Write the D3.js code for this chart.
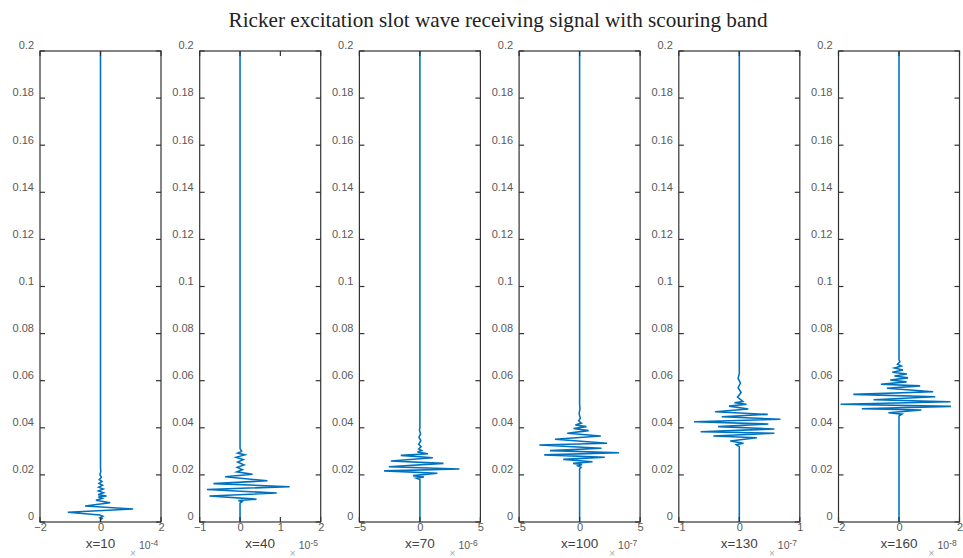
<!DOCTYPE html>
<html>
<head>
<meta charset="utf-8">
<script src="https://cdn.jsdelivr.net/npm/d3@7"></script>
<style>
  html, body { margin: 0; padding: 0; background: #fff; }
  svg { display: block; }
</style>
</head>
<body>
<svg id="chart" width="963" height="558"></svg>
<script>
// ---- data ----
const chartTitle = "Ricker excitation slot wave receiving signal with scouring band";
const receiverNames = ["x=10", "x=40", "x=70", "x=100", "x=130", "x=160"];
const ampExponents = [-4, -5, -6, -7, -7, -8];
const ampDomains = [[-2, 2], [-1, 2], [-5, 5], [-5, 5], [-1, 1], [-2, 2]];
const ampTicks = [[-2, 0, 2], [-1, 0, 1, 2], [-5, 0, 5], [-5, 0, 5], [-1, 0, 1], [-2, 0, 2]];
const timeDomain = [0, 0.2];
const timeTicks = [0, 0.02, 0.04, 0.06, 0.08, 0.1, 0.12, 0.14, 0.16, 0.18, 0.2];
const timeTickLabels = ["0", "0.02", "0.04", "0.06", "0.08", "0.1", "0.12", "0.14", "0.16", "0.18", "0.2"];

// Received signal at each receiver: [time (s), amplitude (× 10^exponent)]
const signalX10 = [
  [0, 0], [0.0010, 0], [0.0014, 0.05], [0.0018, -0.02], [0.0024, 0.08], [0.0030, -0.02],
  [0.0041, -1.08], [0.0055, 1.08], [0.0068, -0.51], [0.0082, 0.32], [0.0092, -0.15],
  [0.0100, 0.06], [0.0106, -0.07], [0.0110, 0.20], [0.0116, -0.08], [0.0124, 0.10],
  [0.0132, -0.07], [0.0140, 0.09], [0.0148, -0.06], [0.0156, 0.07], [0.0164, -0.05],
  [0.0172, 0.05], [0.0180, -0.04], [0.0190, 0.03], [0.0200, -0.02], [0.0215, 0.01],
  [0.0230, 0], [0.2, 0]
];
const signalX40 = [
  [0, 0], [0.0080, 0], [0.0086, 0.05], [0.0091, -0.04], [0.0097, 0.41], [0.0110, -0.76],
  [0.0123, 0.91], [0.0138, -0.82], [0.0150, 1.23], [0.0163, -0.66], [0.0175, 0.68],
  [0.0192, -0.37], [0.0203, 0.31], [0.0213, -0.08], [0.0222, 0.06], [0.0232, -0.07],
  [0.0242, 0.10], [0.0255, -0.06], [0.0265, 0.08], [0.0275, -0.10], [0.0285, 0.12],
  [0.0293, -0.06], [0.0300, 0.04], [0.0312, 0], [0.2, 0]
];
const signalX70 = [
  [0, 0], [0.0180, 0], [0.0186, -0.30], [0.0191, 0.33], [0.0197, -0.57], [0.0207, 1.44],
  [0.0217, -2.96], [0.0225, 3.27], [0.0235, -2.57], [0.0249, 1.95], [0.0259, -2.40],
  [0.0273, 1.07], [0.0283, -1.58], [0.0290, 0.66], [0.0297, -0.20], [0.0303, 0.15],
  [0.0310, -0.10], [0.0320, 0.10], [0.0330, -0.10], [0.0345, 0.08], [0.0360, -0.08],
  [0.0375, 0.06], [0.0390, -0.04], [0.0400, 0], [0.2, 0]
];
const signalX100 = [
  [0, 0], [0.0225, 0], [0.0232, 0.12], [0.0238, -0.15], [0.0244, 0.20], [0.0249, -0.53],
  [0.0256, 1.07], [0.0266, -1.35], [0.0275, 2.08], [0.0285, -2.92], [0.0294, 3.26],
  [0.0303, -2.45], [0.0313, 1.81], [0.0327, -3.33], [0.0334, 2.27], [0.0351, -2.04],
  [0.0365, 1.75], [0.0377, -1.02], [0.0388, 0.75], [0.0397, -0.50], [0.0405, 0.57],
  [0.0412, -0.35], [0.0420, 0.15], [0.0430, -0.08], [0.0440, 0.06], [0.0460, -0.04],
  [0.0480, 0.03], [0.0500, 0], [0.2, 0]
];
const signalX130 = [
  [0, 0], [0.0320, 0], [0.0328, -0.05], [0.0334, 0.07], [0.0344, -0.15], [0.0358, 0.29],
  [0.0365, -0.43], [0.0377, 0.58], [0.0383, -0.64], [0.0395, 0.58], [0.0405, -0.35],
  [0.0416, 0.48], [0.0426, -0.75], [0.0436, 0.68], [0.0447, -0.29], [0.0457, 0.47],
  [0.0468, -0.40], [0.0480, 0.15], [0.0492, -0.17], [0.0500, 0.12], [0.0506, -0.08],
  [0.0512, 0.06], [0.0530, -0.03], [0.0550, 0.03], [0.0570, -0.02], [0.0590, 0.02],
  [0.0610, -0.02], [0.0630, 0], [0.2, 0]
];
const signalX160 = [
  [0, 0], [0.0450, 0], [0.0458, 0.10], [0.0464, -0.35], [0.0476, 0.74], [0.0481, -1.23],
  [0.0491, 1.72], [0.0500, -1.93], [0.0511, 1.70], [0.0519, -0.84], [0.0532, 1.20],
  [0.0542, -1.51], [0.0553, 1.13], [0.0568, -0.40], [0.0578, 0.70], [0.0585, -0.60],
  [0.0595, 0.25], [0.0603, -0.29], [0.0612, 0.30], [0.0620, -0.15], [0.0628, 0.26],
  [0.0636, -0.22], [0.0645, 0.13], [0.0654, -0.15], [0.0662, 0.08], [0.0670, -0.05],
  [0.0680, 0.03], [0.0690, 0], [0.2, 0]
];
const signals = [signalX10, signalX40, signalX70, signalX100, signalX130, signalX160];

// ---- layout ----
const svg = d3.select("#chart");
const panelTop = 51, panelBottom = 522;
const panelWidth = 121, firstLeft = 40, panelStep = 159.7;
const lineColor = "#0072BD";
const axisColor = "#333333";
const labelColor = "#595959";
const tickLen = 5;
const sansFont = "'Liberation Sans', Arial, Helvetica, sans-serif";

svg.append("rect").attr("width", 963).attr("height", 558).attr("fill", "#fff");

svg.append("text")
  .attr("x", 498).attr("y", 27)
  .attr("text-anchor", "middle")
  .attr("font-family", "'Liberation Serif', 'Times New Roman', serif")
  .attr("font-size", 21.2)
  .attr("fill", "#222")
  .text(chartTitle);

signals.forEach((sig, i) => {
  const left = firstLeft + i * panelStep;
  const right = left + panelWidth;
  const x = d3.scaleLinear().domain(ampDomains[i]).range([left, right]);
  const y = d3.scaleLinear().domain(timeDomain).range([panelBottom, panelTop]);
  const g = svg.append("g");

  // trace
  const line = d3.line().x(d => x(d[1])).y(d => y(d[0]));
  g.append("path")
    .datum(sig)
    .attr("d", line)
    .attr("fill", "none")
    .attr("stroke", lineColor)
    .attr("stroke-width", 1.55)
    .attr("stroke-linejoin", "miter");

  // left axis: labels only, tick marks are drawn inward below
  const yAxis = d3.axisLeft(y).tickValues(timeTicks)
    .tickFormat((d, k) => timeTickLabels[k])
    .tickSize(0).tickPadding(6);
  const ya = g.append("g").attr("transform", `translate(${left},0)`).call(yAxis);
  const xAxis = d3.axisBottom(x).tickValues(ampTicks[i]).tickFormat(d3.format("d"))
    .tickSize(0).tickPadding(1.5);
  const xa = g.append("g").attr("transform", `translate(0,${panelBottom})`).call(xAxis);

  [ya, xa].forEach(a => {
    a.select(".domain").remove();
    a.selectAll("line").remove();
    a.selectAll("text")
      .attr("font-family", sansFont)
      .attr("font-size", 11)
      .attr("fill", labelColor);
  });
  ya.selectAll("text").attr("dy", "-0.2em");

  // inward tick marks on all four sides
  const tg = g.append("g").attr("stroke", axisColor).attr("stroke-width", 1.2);
  tg.selectAll(".tl").data(timeTicks).join("line")
    .attr("x1", left).attr("x2", left + tickLen)
    .attr("y1", d => y(d)).attr("y2", d => y(d));
  tg.selectAll(".tr").data(timeTicks).join("line")
    .attr("x1", right).attr("x2", right - tickLen)
    .attr("y1", d => y(d)).attr("y2", d => y(d));
  tg.selectAll(".tb").data(ampTicks[i]).join("line")
    .attr("x1", d => x(d)).attr("x2", d => x(d))
    .attr("y1", panelBottom).attr("y2", panelBottom - tickLen);
  tg.selectAll(".tt").data(ampTicks[i]).join("line")
    .attr("x1", d => x(d)).attr("x2", d => x(d))
    .attr("y1", panelTop).attr("y2", panelTop + tickLen);

  // axes box
  g.append("rect")
    .attr("x", left).attr("y", panelTop)
    .attr("width", panelWidth).attr("height", panelBottom - panelTop)
    .attr("fill", "none").attr("stroke", axisColor).attr("stroke-width", 1.2);

  // receiver label
  g.append("text")
    .attr("x", (left + right) / 2).attr("y", 548)
    .attr("text-anchor", "middle")
    .attr("font-family", sansFont)
    .attr("font-size", 13.5)
    .attr("fill", "#444")
    .text(receiverNames[i]);

  // exponent multiplier
  g.append("text")
    .attr("x", right - 28).attr("y", 556.5)
    .attr("text-anchor", "middle")
    .attr("font-family", sansFont)
    .attr("font-size", 10)
    .attr("fill", "#aaa")
    .text("×");
  const ex = g.append("text")
    .attr("x", right - 22).attr("y", 549)
    .attr("font-family", sansFont)
    .attr("font-size", 10.5)
    .attr("fill", labelColor);
  ex.append("tspan").text("10");
  ex.append("tspan").attr("dy", -3.5).attr("font-size", 8.5).text(String(ampExponents[i]));
});
</script>
</body>
</html>
